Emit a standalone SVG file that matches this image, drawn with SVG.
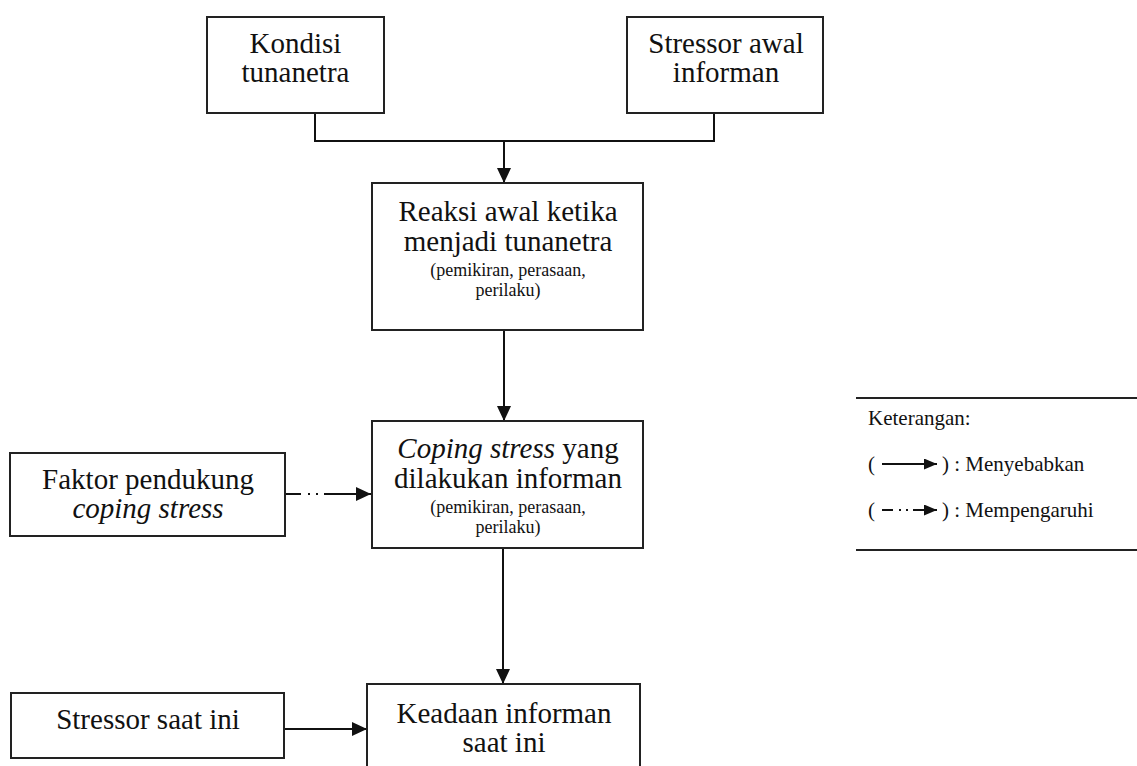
<svg xmlns="http://www.w3.org/2000/svg" width="1137" height="766" viewBox="0 0 1137 766">
<style>
.box{fill:#fff;stroke:#222;stroke-width:2}
text{font-family:'Liberation Serif','DejaVu Serif',serif;fill:#111}
.t{font-size:29px;text-anchor:middle}
.s{font-size:18px;text-anchor:middle}
.l{font-size:21px}
.i{font-style:italic}
.c{fill:none;stroke:#111;stroke-width:2}
</style>
<defs>
<marker id="ah" markerUnits="userSpaceOnUse" markerWidth="15" markerHeight="14" refX="15" refY="7" orient="auto">
<path d="M0,0 L15,7 L0,14 z" fill="#111"/>
</marker>
<marker id="ahs" markerUnits="userSpaceOnUse" markerWidth="13" markerHeight="11" refX="13" refY="5.5" orient="auto">
<path d="M0,0 L13,5.5 L0,11 z" fill="#111"/>
</marker>
</defs>
<rect width="1137" height="766" fill="#fff"/>
<g id="connectors">
<path class="c" d="M315,113 V141 H714 V113"/>
<path class="c" d="M504,141 V183" marker-end="url(#ah)"/>
<path class="c" d="M504,330 V421" marker-end="url(#ah)"/>
<path class="c" d="M286,494 H301 M308,494 H310 M316,494 H318 M324,494 H371" marker-end="url(#ah)"/>
<path class="c" d="M503,548 V684" marker-end="url(#ah)"/>
<path class="c" d="M284,729 H367" marker-end="url(#ah)"/>
</g>
<g id="kondisi">
<rect class="box" x="207" y="17" width="177" height="96"/>
<text class="t" x="295.5" y="53">Kondisi</text>
<text class="t" x="295.5" y="82">tunanetra</text>
</g>
<g id="stressor-awal">
<rect class="box" x="627" y="17" width="196" height="96"/>
<text class="t" x="726" y="53">Stressor awal</text>
<text class="t" x="726" y="82">informan</text>
</g>
<g id="reaksi">
<rect class="box" x="372" y="183" width="271" height="147"/>
<text class="t" x="508" y="221">Reaksi awal ketika</text>
<text class="t" x="508" y="251">menjadi tunanetra</text>
<text class="s" x="508" y="276">(pemikiran, perasaan,</text>
<text class="s" x="508" y="296">perilaku)</text>
</g>
<g id="coping">
<rect class="box" x="372" y="421" width="271" height="127"/>
<text class="t" x="508" y="458"><tspan class="i">Coping stress</tspan> yang</text>
<text class="t" x="508" y="488">dilakukan informan</text>
<text class="s" x="508" y="513">(pemikiran, perasaan,</text>
<text class="s" x="508" y="533">perilaku)</text>
</g>
<g id="faktor">
<rect class="box" x="10" y="453" width="275" height="83"/>
<text class="t" x="148" y="489">Faktor pendukung</text>
<text class="t i" x="148" y="518">coping stress</text>
</g>
<g id="keadaan">
<rect class="box" x="367" y="684" width="273" height="90"/>
<text class="t" x="504" y="723">Keadaan informan</text>
<text class="t" x="504" y="752">saat ini</text>
</g>
<g id="stressor-kini">
<rect class="box" x="11" y="693" width="273" height="65"/>
<text class="t" x="148" y="729">Stressor saat ini</text>
</g>
<g id="legend">
<path d="M856,398 H1137 M856,550 H1137" stroke="#222" stroke-width="2" fill="none"/>
<text class="l" x="868" y="425">Keterangan:</text>
<text class="l" x="868" y="471">(</text>
<path class="c" d="M882,464 H937" marker-end="url(#ahs)"/>
<text class="l" x="942" y="471">) : Menyebabkan</text>
<text class="l" x="868" y="517">(</text>
<path class="c" d="M882,510 H893 M899,510 H901 M906,510 H908 M913,510 H937" marker-end="url(#ahs)"/>
<text class="l" x="942" y="517">) : Mempengaruhi</text>
</g>
</svg>
